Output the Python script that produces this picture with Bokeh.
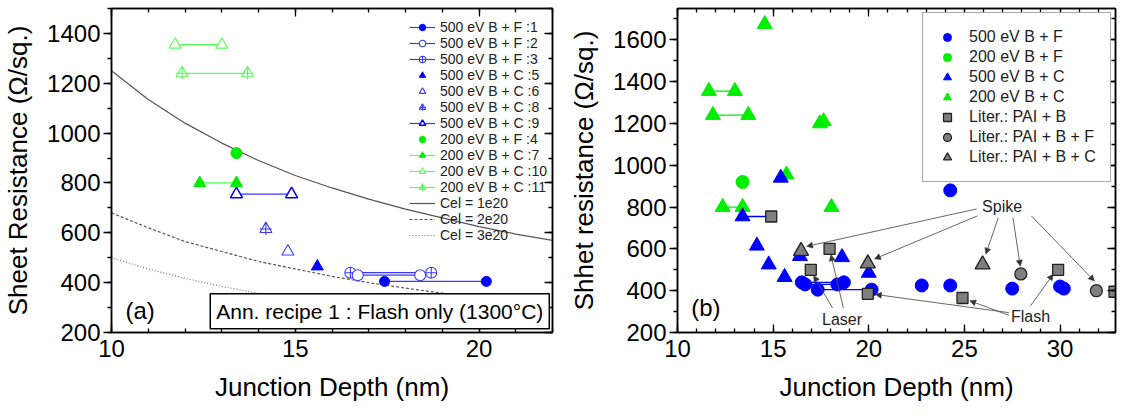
from bokeh.plotting import figure
from bokeh.layouts import row
from bokeh.models import (Range1d, LinearAxis, SingleIntervalTicker, Legend, LegendItem,
                          Label, Arrow, NormalHead, ColumnDataSource, CustomJSTickFormatter)
from bokeh.embed import file_html
from bokeh.resources import INLINE

FONT = "Liberation Sans"
BLUE = "#0000ff"
BLUE_L = "#3a3aff"
GREEN = "#00ee00"
GREEN_L = "#55ff55"
GRAY = "#7f7f7f"

# ---------------- panel (a) data ----------------
a_bf1_x = [17.43, 20.2]
a_bf1_y = [405, 405]
a_bf2_x = [16.7, 18.4]
a_bf2_y = [430, 430]
a_bf3_x = [16.5, 18.7]
a_bf3_y = [440, 440]
a_bc5_x = [15.6]
a_bc5_y = [465]
a_bc6_x = [14.8]
a_bc6_y = [525]
a_bc8_x = [14.2]
a_bc8_y = [615]
a_bc9_x = [13.4, 14.9]
a_bc9_y = [755, 755]
a_gf4_x = [13.4]
a_gf4_y = [920]
a_gc7_x = [12.4, 13.4]
a_gc7_y = [800, 800]
a_gc10_x = [11.73, 13.0]
a_gc10_y = [1355, 1355]
a_gc11_x = [11.92, 13.7]
a_gc11_y = [1240, 1240]

cel1_x = [10, 11, 12, 13, 14, 15, 16, 17, 18, 19, 20, 21, 22]
cel1_y = [1250, 1135, 1040, 960, 890, 830, 780, 735, 695, 660, 625, 595, 570]
cel2_x = [10, 11, 12, 13, 14, 15, 16, 17, 18, 19, 20, 21]
cel2_y = [680, 620, 565, 525, 485, 455, 425, 400, 378, 358, 340, 324]
cel3_x = [10, 11, 12, 13, 14, 15, 16, 17, 18, 19, 20, 21]
cel3_y = [500, 455, 417, 385, 357, 333, 313, 294, 278, 263, 250, 238]

# ---------------- panel (b) data ----------------
b_bf500_x = [16.5, 16.67, 17.33, 18.36, 18.7, 20.15, 22.77, 24.26, 24.26, 27.5, 30.0, 30.2]
b_bf500_y = [440, 430, 405, 430, 440, 405, 425, 880, 425, 410, 420, 410]
b_bf200_x = [13.4]
b_bf200_y = [920]
b_bc500_x = [15.4, 13.4, 14.15, 14.77, 15.6, 16.4, 18.6, 20.0]
b_bc500_y = [940, 755, 615, 525, 465, 565, 560, 485]
b_bc200_x = [14.56, 11.64, 13.0, 11.85, 13.7, 17.44, 17.64, 15.7, 12.36, 13.4, 18.05]
b_bc200_y = [1675, 1355, 1355, 1240, 1240, 1200, 1210, 955, 800, 800, 800]
b_pai_b_x = [14.9, 16.97, 17.95, 19.95, 24.9, 29.9, 32.85]
b_pai_b_y = [755, 500, 600, 385, 365, 500, 395]
b_pai_bf_x = [27.95, 31.9]
b_pai_bf_y = [480, 400]
b_pai_bc_x = [16.46, 19.95, 25.95]
b_pai_bc_y = [590, 530, 525]

b_blue_links_x = [[13.4, 14.9], [16.5, 18.7], [16.67, 18.36], [17.33, 20.15]]
b_blue_links_y = [[755, 755], [440, 440], [430, 430], [405, 405]]
b_green_links_x = [[11.64, 13.0], [11.85, 13.7], [12.36, 13.4]]
b_green_links_y = [[1355, 1355], [1240, 1240], [800, 800]]

# annotation arrows (start -> end) in data units
spike_x0 = [25.64, 25.69, 26.77, 27.54, 28.5]
spike_y0 = [791, 758, 749, 749, 758]
spike_x1 = [16.75, 20.3, 26.12, 27.92, 31.8]
spike_y1 = [612, 552, 575, 517, 446]
flash_x0 = [27.33, 27.33, 28.46]
flash_y0 = [295, 282, 328]
flash_x1 = [20.35, 25.28, 29.64]
flash_y1 = [382, 352, 479]
laser_x0 = [18.1, 18.67]
laser_y0 = [318, 318]
laser_x1 = [17.12, 18.02]
laser_y1 = [472, 572]


def make_fig(xr, yr, xint, yint, yminor, left, right, fw, xlabel, ylabel):
    p = figure(x_range=Range1d(*xr), y_range=Range1d(*yr), frame_width=fw, frame_height=324,
               min_border_left=left, min_border_right=right, min_border_top=8,
               min_border_bottom=76, output_backend="svg", toolbar_location=None,
               background_fill_color="white", border_fill_color="white")
    p.xgrid.visible = False
    p.ygrid.visible = False
    p.outline_line_color = "black"
    p.outline_line_width = 1.5
    xa = p.xaxis[0]
    ya = p.yaxis[0]
    xa.ticker = SingleIntervalTicker(interval=xint, num_minor_ticks=5)
    ya.ticker = SingleIntervalTicker(interval=yint, num_minor_ticks=yminor)
    for ax in (xa, ya):
        ax.axis_line_width = 1.5
        ax.major_tick_line_width = 1.3
        ax.minor_tick_line_width = 1.3
        ax.major_label_text_font = FONT
        ax.major_label_text_font_size = "24px"
        ax.major_label_text_color = "black"
        ax.axis_label_text_font = FONT
        ax.axis_label_text_font_size = "26px"
        ax.axis_label_text_font_style = "normal"
        ax.axis_label_text_color = "black"
    xa.axis_label = xlabel
    ya.axis_label = ylabel
    xa.major_tick_in = 8
    xa.major_tick_out = 0
    xa.minor_tick_in = 4
    xa.minor_tick_out = 0
    ya.major_tick_in = 0
    ya.major_tick_out = 8
    ya.minor_tick_in = 0
    ya.minor_tick_out = 4
    xa.major_label_standoff = 7
    xa.axis_label_standoff = 12
    ya.major_label_standoff = 3
    ya.axis_label_standoff = 11
    blank = CustomJSTickFormatter(code="return ''")
    top = LinearAxis(ticker=SingleIntervalTicker(interval=xint, num_minor_ticks=5), formatter=blank)
    right_ax = LinearAxis(ticker=SingleIntervalTicker(interval=yint, num_minor_ticks=yminor), formatter=blank)
    for ax in (top, right_ax):
        ax.axis_line_width = 1.5
        ax.major_tick_line_width = 1.3
        ax.minor_tick_line_width = 1.3
        ax.major_tick_in = 8
        ax.major_tick_out = 0
        ax.minor_tick_in = 4
        ax.minor_tick_out = 0
        ax.major_label_standoff = 0
        ax.major_label_text_font_size = "1px"
    p.add_layout(top, "above")
    p.add_layout(right_ax, "right")
    return p


# ================= panel (a) =================
pa = make_fig((10, 22), (200, 1500), 5, 200, 2, 103, 14, 441,
              "Junction Depth (nm)", "Sheet Resistance (\u03a9/sq.)")

c1 = pa.line(cel1_x, cel1_y, line_color="#555555", line_width=1.2)
c2 = pa.line(cel2_x, cel2_y, line_color="#555555", line_width=1.2, line_dash="3 2")
c3 = pa.line(cel3_x, cel3_y, line_color="#777777", line_width=1.2, line_dash="1 2")

l1 = pa.line(a_bf1_x, a_bf1_y, line_color=BLUE_L, line_width=1.2)
l2 = pa.line(a_bf2_x, a_bf2_y, line_color=BLUE_L, line_width=1.2)
l3 = pa.line(a_bf3_x, a_bf3_y, line_color=BLUE_L, line_width=1.2)
l9 = pa.line(a_bc9_x, a_bc9_y, line_color=BLUE_L, line_width=1.2)
l7 = pa.line(a_gc7_x, a_gc7_y, line_color=GREEN_L, line_width=1.2)
l10 = pa.line(a_gc10_x, a_gc10_y, line_color=GREEN_L, line_width=1.2)
l11 = pa.line(a_gc11_x, a_gc11_y, line_color=GREEN_L, line_width=1.2)

s3 = pa.scatter(a_bf3_x, a_bf3_y, marker="circle_cross", size=11, fill_color="white",
                line_color=BLUE_L, line_width=1.1)
s2 = pa.scatter(a_bf2_x, a_bf2_y, marker="circle", size=11, fill_color="white",
                line_color=BLUE_L, line_width=1.1)
s1 = pa.scatter(a_bf1_x, a_bf1_y, marker="circle", size=10, fill_color=BLUE, line_color=BLUE)
s5 = pa.scatter(a_bc5_x, a_bc5_y, marker="triangle", size=12, fill_color=BLUE, line_color=BLUE)
s6 = pa.scatter(a_bc6_x, a_bc6_y, marker="triangle", size=12, fill_color="white",
                line_color=BLUE_L, line_width=1.1)
s8 = pa.scatter(a_bc8_x, a_bc8_y, marker="triangle", size=12, fill_color="white",
                line_color=BLUE_L, line_width=1.1)
s8c = pa.scatter(a_bc8_x, a_bc8_y, marker="cross", size=12, line_color=BLUE_L, line_width=1.1)
s9 = pa.scatter(a_bc9_x, a_bc9_y, marker="triangle", size=12, fill_color="white",
                line_color=BLUE, line_width=1.5)
s4 = pa.scatter(a_gf4_x, a_gf4_y, marker="circle", size=11, fill_color=GREEN, line_color=GREEN)
s7 = pa.scatter(a_gc7_x, a_gc7_y, marker="triangle", size=12, fill_color=GREEN, line_color=GREEN)
s10 = pa.scatter(a_gc10_x, a_gc10_y, marker="triangle", size=12, fill_color="white",
                 line_color=GREEN_L, line_width=1.1)
s11 = pa.scatter(a_gc11_x, a_gc11_y, marker="triangle", size=12, fill_color="white",
                 line_color=GREEN_L, line_width=1.1)
s11c = pa.scatter(a_gc11_x, a_gc11_y, marker="cross", size=12, line_color=GREEN_L, line_width=1.1)

items_a = [
    LegendItem(label="500 eV B + F :1", renderers=[l1, s1]),
    LegendItem(label="500 eV B + F :2", renderers=[l2, s2]),
    LegendItem(label="500 eV B + F :3", renderers=[l3, s3]),
    LegendItem(label="500 eV B + C :5", renderers=[s5]),
    LegendItem(label="500 eV B + C :6", renderers=[s6]),
    LegendItem(label="500 eV B + C :8", renderers=[s8, s8c]),
    LegendItem(label="500 eV B + C :9", renderers=[l9, s9]),
    LegendItem(label="200 eV B + F :4", renderers=[s4]),
    LegendItem(label="200 eV B + C :7", renderers=[l7, s7]),
    LegendItem(label="200 eV B + C :10", renderers=[l10, s10]),
    LegendItem(label="200 eV B + C :11", renderers=[l11, s11, s11c]),
    LegendItem(label="Cel = 1e20", renderers=[c1]),
    LegendItem(label="Cel = 2e20", renderers=[c2]),
    LegendItem(label="Cel = 3e20", renderers=[c3]),
]
leg_a = Legend(items=items_a, location=(292, 83), label_text_font=FONT,
               label_text_font_size="14px", label_text_color="#222222",
               glyph_width=26, glyph_height=16, label_height=16, label_standoff=5,
               spacing=0, padding=6, margin=0, border_line_alpha=0, background_fill_alpha=0)
pa.add_layout(leg_a)

pa.add_layout(Label(x=17.3, y=285, text="Ann. recipe 1 : Flash only (1300\u00b0C)",
                    text_font=FONT, text_font_size="21px", text_align="center",
                    text_baseline="middle", text_color="black", padding=6,
                    border_line_color="black", border_line_width=1.5,
                    background_fill_color="white"))
pa.add_layout(Label(x=10.38, y=290, text="(a)", text_font=FONT, text_font_size="24px",
                    text_baseline="middle", text_align="left", text_color="black"))

# ================= panel (b) =================
pb = make_fig((10, 32.9), (200, 1750), 5, 200, 2, 107, 2, 438,
              "Junction Depth (nm)", "Shhet resistance (\u03a9/sq.)")

pb.multi_line(b_blue_links_x, b_blue_links_y, line_color=BLUE, line_width=1.3)
pb.multi_line(b_green_links_x, b_green_links_y, line_color=GREEN, line_width=1.3)

r_bc200 = pb.scatter(b_bc200_x, b_bc200_y, marker="triangle", size=15, fill_color=GREEN, line_color=GREEN)
r_bf200 = pb.scatter(b_bf200_x, b_bf200_y, marker="circle", size=13, fill_color=GREEN, line_color=GREEN)
r_bc500 = pb.scatter(b_bc500_x, b_bc500_y, marker="triangle", size=15, fill_color=BLUE, line_color=BLUE)
r_bf500 = pb.scatter(b_bf500_x, b_bf500_y, marker="circle", size=13, fill_color=BLUE, line_color=BLUE)
r_pb = pb.scatter(b_pai_b_x, b_pai_b_y, marker="square", size=11, fill_color=GRAY,
                  line_color="#222222", line_width=1.3)
r_pbf = pb.scatter(b_pai_bf_x, b_pai_bf_y, marker="circle", size=12, fill_color=GRAY,
                   line_color="#222222", line_width=1.3)
r_pbc = pb.scatter(b_pai_bc_x, b_pai_bc_y, marker="triangle", size=15, fill_color=GRAY,
                   line_color="#222222", line_width=1.3)

for xs0, ys0, xs1, ys1 in ((spike_x0, spike_y0, spike_x1, spike_y1),
                           (flash_x0, flash_y0, flash_x1, flash_y1),
                           (laser_x0, laser_y0, laser_x1, laser_y1)):
    src = ColumnDataSource(dict(x0=xs0, y0=ys0, x1=xs1, y1=ys1))
    pb.add_layout(Arrow(x_start="x0", y_start="y0", x_end="x1", y_end="y1", source=src,
                        line_color="#555555", line_width=0.9,
                        end=NormalHead(size=6, fill_color="#333333", line_color="#333333",
                                       line_width=0.5)))

for txt, tx, ty in (("Spike", 26.97, 801), ("Flash", 28.46, 276), ("Laser", 18.6, 261)):
    pb.add_layout(Label(x=tx, y=ty, text=txt, text_font=FONT, text_font_size="16px",
                        text_align="center", text_baseline="middle", text_color="#222222"))

pb.add_layout(Label(x=10.72, y=318, text="(b)", text_font=FONT, text_font_size="24px",
                    text_baseline="middle", text_align="left", text_color="black"))

items_b = [
    LegendItem(label="500 eV B + F", renderers=[r_bf500]),
    LegendItem(label="200 eV B + F", renderers=[r_bf200]),
    LegendItem(label="500 eV B + C", renderers=[r_bc500]),
    LegendItem(label="200 eV B + C", renderers=[r_bc200]),
    LegendItem(label="Liter.: PAI + B", renderers=[r_pb]),
    LegendItem(label="Liter.: PAI + B + F", renderers=[r_pbf]),
    LegendItem(label="Liter.: PAI + B + C", renderers=[r_pbc]),
]
leg_b = Legend(items=items_b, location=(245, 150), label_text_font=FONT,
               label_text_font_size="16px", label_text_color="#222222",
               glyph_width=20, glyph_height=20, label_height=20, label_standoff=12,
               spacing=0, padding=14, margin=0, border_line_color="#555555",
               border_line_width=1, background_fill_color="white")
pb.add_layout(leg_b)

layout = row(pa, pb)
open("out.html", "w").write(file_html(layout, INLINE))
